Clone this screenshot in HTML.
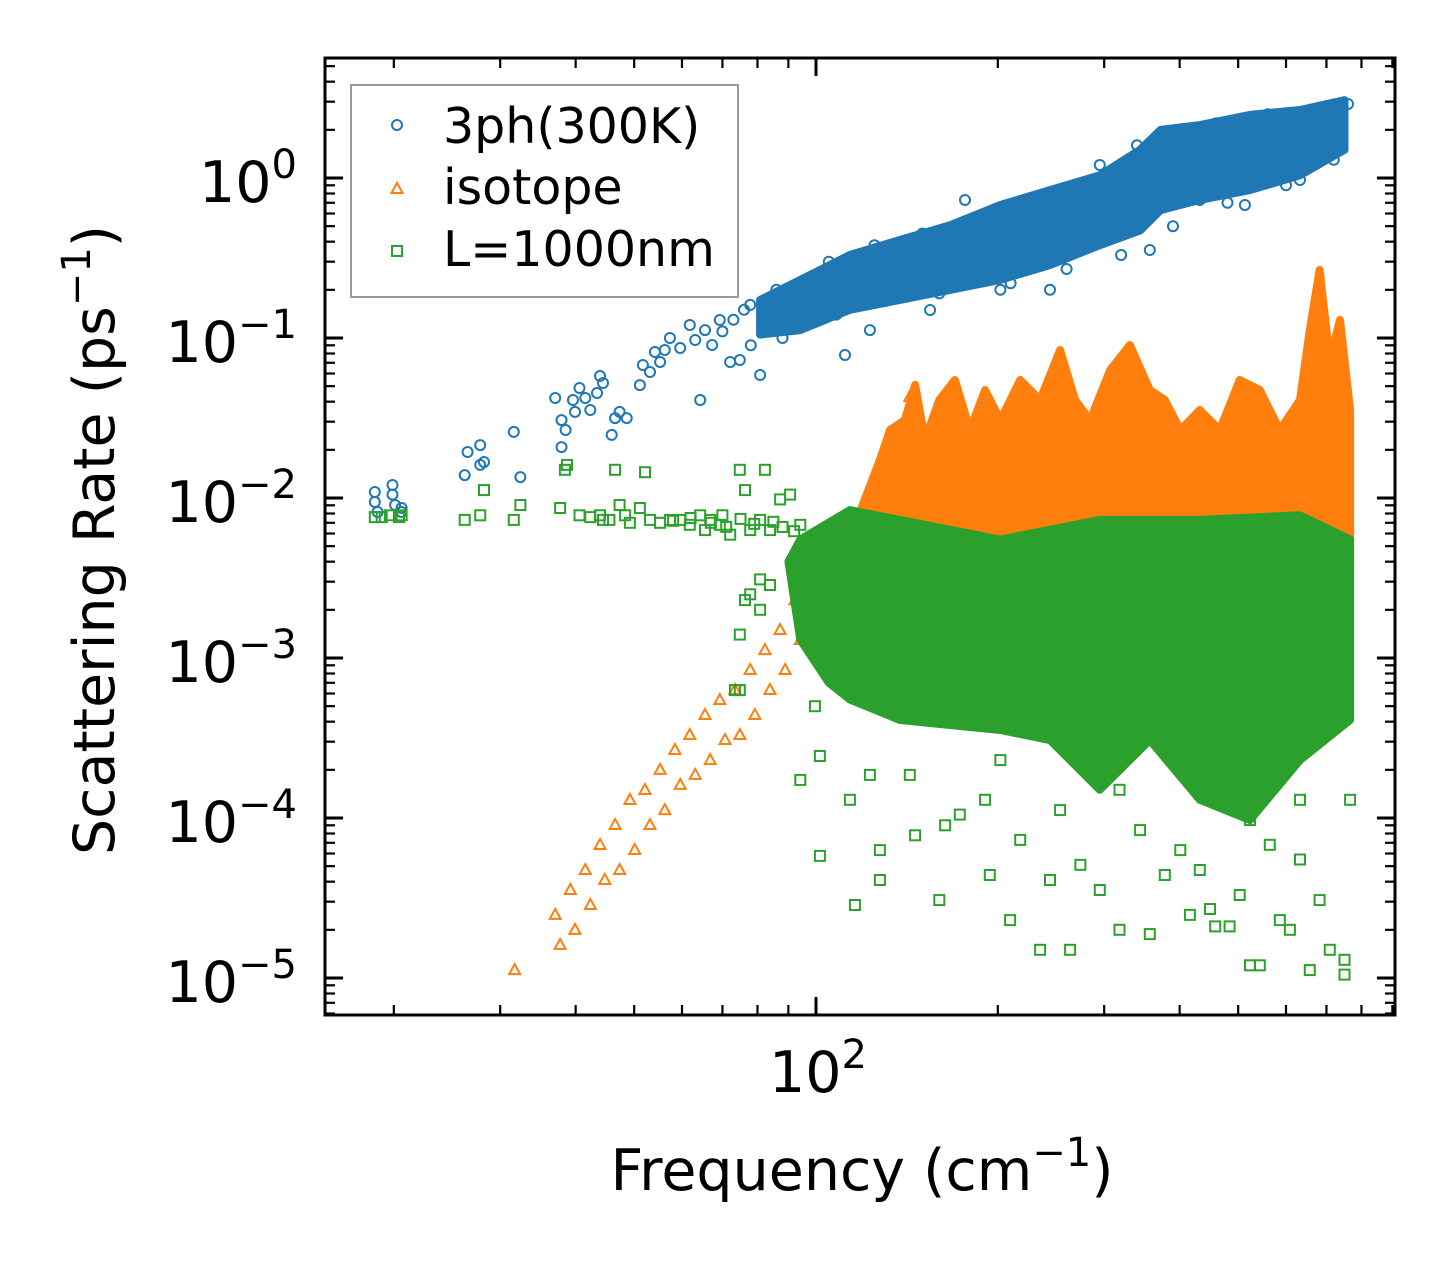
<!DOCTYPE html>
<html><head><meta charset="utf-8"><style>
html,body{margin:0;padding:0;background:#fff;}
svg{display:block;font-family:"DejaVu Sans","Liberation Sans",sans-serif;}
</style></head><body>
<svg id="chart" width="1455" height="1265" viewBox="0 0 1455 1265" xmlns="http://www.w3.org/2000/svg">
<rect x="0" y="0" width="1455" height="1265" fill="#fff"/>
<defs><clipPath id="plotclip"><rect x="325" y="58" width="1070" height="957"/></clipPath></defs>
<g id="marks" clip-path="url(#plotclip)"></g>
<g id="axes"></g>
<g>
<rect x="351" y="85" width="387" height="212" fill="#fff" fill-opacity="0.8" stroke="#999" stroke-width="2"/>
<circle cx="397" cy="125" r="5" fill="none" stroke="#1f77b4" stroke-width="2"/>
<text x="443" y="143" font-size="49">3ph(300K)</text>
<path d="M397,183 L402.5,193 L391.5,193 Z" fill="none" stroke="#ff7f0e" stroke-width="2"/>
<text x="443" y="204" font-size="49">isotope</text>
<rect x="392" y="246" width="10" height="10" fill="none" stroke="#2ca02c" stroke-width="2"/>
<text x="443" y="266" font-size="49">L=1000nm</text>
</g>
<text x="862" y="1190" font-size="57" text-anchor="middle">Frequency (cm<tspan font-size="40" dy="-24">−1</tspan><tspan dy="24">)</tspan></text>
<text transform="translate(114,540) rotate(-90)" font-size="57" text-anchor="middle">Scattering Rate (ps<tspan font-size="40" dy="-24">−1</tspan><tspan dy="24">)</tspan></text>
</svg>
<script>
// ---- data ----
const blueFreq = [18.6,18.6,18.8,19.9,19.9,20.1,20.6,20.6,26.2,26.5,27.8,27.8,28.2,31.6,32.4,37.0,37.9,37.9,38.5,39.6,39.9,40.6,41.5,42.3,43.4,43.9,44.4,45.9,46.5,47.3,48.6,51.1,51.7,53.1,54.1,55.2,56.2,57.3,59.6,61.8,63.1,64.3,65.5,67.3,69.3,72.1,74.8,77.8,80.8,83.9,90.6,94.2,101.5,111.7,113.8,122.8,137.7,154.5,176.5,194,202,226,244,274,295,357,401,416,432,513,543,633,737,
 70,73,76,78,82,86,88,105,108,125,130,150,160,185,210,230,260,280,320,340,390,460,480,560,600,680,720,760];
const blueRate = [0.0109,0.00944,0.00818,0.01206,0.0105,0.00904,0.00866,0.00818,0.0139,0.0194,0.0214,0.0161,0.0168,0.0259,0.0135,0.0422,0.0307,0.0208,0.0266,0.041,0.0345,0.0487,0.0422,0.0355,0.0453,0.0579,0.0523,0.0248,0.0316,0.0345,0.0316,0.0508,0.0678,0.0613,0.0818,0.0708,0.0841,0.1,0.0866,0.1206,0.0972,0.041,0.112,0.0904,0.1296,0.0708,0.0729,0.161,0.0587,0.112,0.186,0.1296,0.161,0.0783,0.2,0.112,0.355,0.1496,0.729,0.41,0.2,0.631,0.2,0.355,1.206,0.355,0.972,0.904,0.729,0.678,1.393,0.972,2.86,
 0.11,0.13,0.15,0.09,0.16,0.2,0.1,0.3,0.14,0.38,0.17,0.45,0.19,0.55,0.22,0.75,0.27,0.9,0.33,1.6,0.5,2.2,0.7,2.5,0.9,2.7,1.3,2.9];
const blueBandFreq = [80.8,94.2,113.8,137.7,167,202,244,295,344,372,432,523,633,750];
const blueBandHigh = [0.173,0.231,0.33,0.41,0.508,0.678,0.84,1.04,1.5,2.0,2.14,2.48,2.66,3.07];
const blueBandLow = [0.105,0.112,0.15,0.173,0.2,0.231,0.286,0.38,0.47,0.63,0.73,0.84,1.04,1.5];

const isoFreq = [31.7,37.0,39.2,41.5,43.9,46.5,49.2,52.1,55.2,58.4,61.8,65.5,69.3,73.4,77.8,82.3,87.2,92.3,97.7,37.7,39.9,42.3,44.7,47.3,50.1,53.1,56.2,59.6,63.1,66.8,70.7,74.8,79.2,83.9,88.9,94.2,99.6,143,127.6];
const isoRate = [1.12e-5,2.48e-5,3.55e-5,4.73e-5,6.78e-5,9.04e-5,1.296e-4,1.496e-4,2.0e-4,2.66e-4,3.30e-4,4.40e-4,5.46e-4,6.31e-4,8.41e-4,1.12e-3,1.496e-3,2.30e-3,2.86e-3,1.61e-5,2.0e-5,2.86e-5,4.10e-5,4.73e-5,6.31e-5,9.04e-5,1.12e-4,1.61e-4,1.86e-4,2.30e-4,3.07e-4,3.30e-4,4.40e-4,6.31e-4,8.41e-4,1.296e-3,1.73e-3,0.0428,0.015];
const isoBandFreq = [118,127.6,132.6,140.3,145.9,151.5,160,169.8,179.9,190.5,202,217.8,235,253.6,268.5,284.4,307,330.9,357,378,401,432,466,503,543,586,633,657,682,709,737,766];
const isoBandHigh = [0.008,0.0173,0.0266,0.0307,0.0509,0.0231,0.041,0.0546,0.0266,0.0473,0.0307,0.0546,0.041,0.0841,0.041,0.0307,0.0631,0.0904,0.0473,0.041,0.0266,0.0355,0.0266,0.0546,0.0473,0.0266,0.041,0.112,0.266,0.0729,0.1296,0.0355];
const isoBandLow = [0.004,0.004,0.004,0.004,0.004,0.004,0.004,0.004,0.004,0.004,0.004,0.004,0.004,0.004,0.004,0.004,0.004,0.004,0.004,0.004,0.004,0.004,0.004,0.004,0.004,0.004,0.004,0.004,0.004,0.004,0.004,0.004];

const bndFreq = [18.6,19.1,19.7,20.4,20.6,26.2,27.8,28.2,31.6,32.4,37.7,38.4,38.7,40.6,42.3,43.9,44.4,45.5,46.5,47.3,48.3,49.2,51.1,52.1,53.1,55.2,57.3,59.6,61.8,64.3,65.5,66.8,69.3,72.1,74.8,76.3,77.8,80.8,82.3,83.9,87.2,90.6,94.2,76.3,77.8,80.8,83.9,74.8,74.8,80.8,73.4,99.6,94.2,101.5,
 101.5,113.8,122.8,127.6,143,145.9,160,163.6,173,190.5,194,209.6,217.8,235,244,253.6,263.4,274,295,318,344,357,378,401,416,432,449,458,484,503,523,543,564,586,609,633,657,682,709,750,750,116,127.6,202,318,523,432,295,633,766,
 58,62,67,70,71,75,79,85,88,92];
const bndRate = [0.0076,0.0076,0.0078,0.0076,0.0078,0.0073,0.0078,0.0112,0.0073,0.00904,0.00866,0.015,0.0161,0.0078,0.0076,0.0078,0.0073,0.0073,0.015,0.00904,0.0078,0.0070,0.00866,0.0145,0.0073,0.0070,0.0073,0.0073,0.0068,0.0078,0.0063,0.0073,0.0068,0.0059,0.015,0.0112,0.0063,0.0073,0.015,0.0063,0.0098,0.0105,0.0068,0.0023,0.0025,0.0031,0.00286,0.0014,0.00063,0.0020,0.00063,5.0e-4,1.73e-4,2.44e-4,
 5.8e-5,1.3e-4,1.86e-4,6.3e-5,1.86e-4,7.8e-5,3.07e-5,9.0e-5,1.05e-4,1.3e-4,4.4e-5,2.3e-5,7.3e-5,1.5e-5,4.1e-5,1.12e-4,1.5e-5,5.1e-5,3.55e-5,2.0e-5,8.4e-5,1.88e-5,4.4e-5,6.3e-5,2.48e-5,4.73e-5,2.7e-5,2.1e-5,2.1e-5,3.3e-5,1.2e-5,1.2e-5,6.8e-5,2.3e-5,2.0e-5,5.5e-5,1.12e-5,3.07e-5,1.5e-5,1.05e-5,1.3e-5,2.86e-5,4.1e-5,2.3e-4,1.5e-4,9.7e-5,1.5e-4,1.73e-4,1.3e-4,1.3e-4,
 0.0072,0.0075,0.0070,0.0078,0.0066,0.0074,0.0069,0.0071,0.0066,0.0062];
const bndBandFreq = [90,94.2,113.8,137.7,202,295,432,633,766];
const bndBandHigh = [0.004,0.0055,0.0084,0.0073,0.0055,0.0073,0.0073,0.0078,0.0055];
const bndBandLow = [0.0013,0.0013,5.5e-4,4.1e-4,3.55e-4,1.5e-4,1.3e-4,2.3e-4,4.1e-4];
const bndLowFreq = [94.2,105,113.8,137.7,202,244,295,357,432,523,633,766];
const bndLowRate = [0.0013,7e-4,5.5e-4,4.1e-4,3.55e-4,3.07e-4,1.5e-4,3.07e-4,1.3e-4,9.7e-5,2.3e-4,4.1e-4];

const yTickExps = [0,-1,-2,-3,-4,-5];
const xTickExps = [2];

// ---- axis functions ----
const X0 = 816, XPD = 604, Y0 = 178, YPD = 160;
function xs(f){ return X0 + XPD*Math.log10(f/100); }
function ys(r){ return Y0 - YPD*Math.log10(r); }
const NS = "http://www.w3.org/2000/svg";
function mk(tag, attrs, parent){ const e=document.createElementNS(NS,tag); for(const k in attrs) e.setAttribute(k,attrs[k]); parent.appendChild(e); return e; }

const marks = document.getElementById('marks');
const axes = document.getElementById('axes');

function band(fr, hi, lofr, lo, color, name){
  let pts = fr.map((f,i)=>xs(f).toFixed(1)+','+ys(hi[i]).toFixed(1));
  for(let i=lofr.length-1;i>=0;i--) pts.push(xs(lofr[i]).toFixed(1)+','+ys(lo[i]).toFixed(1));
  const p = mk('polygon',{points:pts.join(' '),fill:color,stroke:color,'stroke-width':8,'stroke-linejoin':'round'},marks);
  
  
}
function circles(fr, rt){
  const g = mk('g',{},marks);
  
  
  fr.forEach((f,i)=>{
    const c = mk('circle',{cx:xs(f).toFixed(1),cy:ys(rt[i]).toFixed(1),r:5,fill:'none',stroke:'#1f77b4','stroke-width':2},g);
    
    
  });
}
function triangles(fr, rt){
  const g = mk('g',{},marks);
  
  
  fr.forEach((f,i)=>{
    const x=xs(f), y=ys(rt[i]);
    const t = mk('path',{d:`M${x},${y-6} L${x+5.5},${y+4} L${x-5.5},${y+4} Z`,fill:'none',stroke:'#ff7f0e','stroke-width':2},g);
    
    
  });
}
function squares(fr, rt){
  const g = mk('g',{},marks);
  
  
  fr.forEach((f,i)=>{
    const s = mk('rect',{x:(xs(f)-5).toFixed(1),y:(ys(rt[i])-5).toFixed(1),width:10,height:10,fill:'none',stroke:'#2ca02c','stroke-width':2},g);
    
    
  });
}
band(blueBandFreq, blueBandHigh, blueBandFreq, blueBandLow, '#1f77b4', '3ph-dense-band');
circles(blueFreq, blueRate);
band(isoBandFreq, isoBandHigh, isoBandFreq, isoBandLow, '#ff7f0e', 'isotope-dense-band');
triangles(isoFreq, isoRate);
band(bndBandFreq, bndBandHigh, bndLowFreq, bndLowRate, '#2ca02c', 'boundary-dense-band');
squares(bndFreq, bndRate);

// ---- axes ----
const L=325, R=1395, T=58, B=1015;
const frame = mk('rect',{x:L,y:T,width:R-L,height:B-T,fill:'none',stroke:'#000','stroke-width':3},axes);


for(let e=1; e>=-6; e--){
  for(let m=1;m<10;m++){
    const y = ys(m*Math.pow(10,e));
    if(y<T+1||y>B-1) continue;
    const len = m===1?18:10;
    mk('line',{x1:L,y1:y,x2:L+len,y2:y,stroke:'#000','stroke-width':m===1?3:2.2},axes);
    mk('line',{x1:R,y1:y,x2:R-len,y2:y,stroke:'#000','stroke-width':m===1?3:2.2},axes);
  }
}
yTickExps.forEach(e=>{
  const t = mk('text',{x:297,y:ys(Math.pow(10,e))+24,'font-size':57,'text-anchor':'end'},axes);
  
  
  t.appendChild(document.createTextNode('10'));
  const s = mk('tspan',{'font-size':40,dy:-24},t);
  s.textContent = e===0?'0':'−'+Math.abs(e);
});
for(let e=1;e<=2;e++){
  for(let m=1;m<10;m++){
    const x = xs(m*Math.pow(10,e));
    if(x<L+1||x>R-1) continue;
    const len = m===1?18:10;
    mk('line',{x1:x,y1:B,x2:x,y2:B-len,stroke:'#000','stroke-width':m===1?3:2.2},axes);
    mk('line',{x1:x,y1:T,x2:x,y2:T+len,stroke:'#000','stroke-width':m===1?3:2.2},axes);
  }
}
xTickExps.forEach(e=>{
  const t = mk('text',{x:xs(Math.pow(10,e))+2,y:1092,'font-size':57,'text-anchor':'middle'},axes);
  
  
  t.appendChild(document.createTextNode('10'));
  const s = mk('tspan',{'font-size':40,dy:-24},t);
  s.textContent = String(e);
});
</script>
</body></html>
